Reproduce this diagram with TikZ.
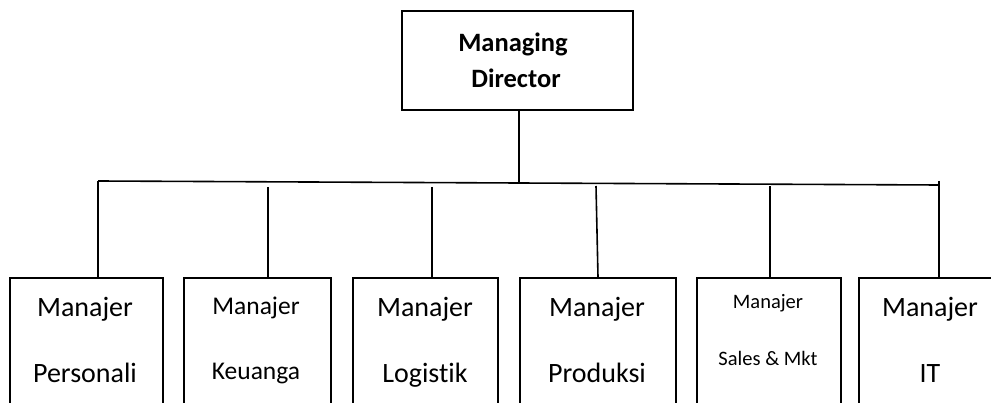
\documentclass[tikz,border=0pt]{standalone}
\usepackage{fontspec}
\setmainfont[Ligatures=NoCommon]{Carlito}
\begin{document}
\begin{tikzpicture}[x=1pt,y=-1pt,
  line width=1.6pt,
  boxs/.style={draw,rectangle,inner sep=0pt,anchor=north west},
  big/.style={font=\fontsize{28}{30}\selectfont,inner sep=0pt,anchor=base},
  mid/.style={font=\fontsize{25.5}{28}\selectfont,inner sep=0pt,anchor=base},
  small/.style={font=\fontsize{20.5}{22}\selectfont,inner sep=0pt,anchor=base},
  top/.style={font=\bfseries\fontsize{26.5}{28}\selectfont,inner sep=0pt,anchor=base}]
\useasboundingbox (0,0) rectangle (991,403);
% top box
\node[boxs,minimum width=231pt,minimum height=99pt] (md) at (401,10) {};
\node[top] (mdA) at (513,52) {Managing};
\node[top] (mdB) at (516,88) {Director};
% bottom boxes
\node[boxs,minimum width=153pt,minimum height=140pt] (b1) at (9,277) {};
\node[boxs,minimum width=147pt,minimum height=140pt] (b2) at (183,277) {};
\node[boxs,minimum width=145pt,minimum height=140pt] (b3) at (352,277) {};
\node[boxs,minimum width=156pt,minimum height=140pt] (b4) at (519,277) {};
\node[boxs,minimum width=144pt,minimum height=140pt] (b5) at (696,277) {};
\node[boxs,minimum width=140pt,minimum height=140pt] (b6) at (858,277) {};
% texts
\node[big] (t1a) at (85,317) {Manajer};
\node[big] (t1b) at (85,382) {Personali};
\node[mid] (t2a) at (256,315) {Manajer};
\node[mid] (t2b) at (256,380) {Keuanga};
\node[big] (t3a) at (425,317) {Manajer};
\node[big] (t3b) at (425,382) {Logistik};
\node[big] (t4a) at (597,317) {Manajer};
\node[big] (t4b) at (597,382) {Produksi};
\node[small] (t5a) at (768,309) {Manajer};
\node[small] (t5b) at (768,366) {Sales \& Mkt};
\node[big] (t6a) at (930,317) {Manajer};
\node[big] (t6b) at (930,383) {IT};
% connectors
\coordinate (hl) at (98,181);
\coordinate (hr) at (939,185);
\coordinate (hm) at (519,183);
\draw (hl) -- (hr);
\draw (md.south -| hm) -- (hm);
\coordinate (c1) at (98,181);
\coordinate (c2) at (268,187);
\coordinate (c3) at (432,187);
\coordinate (c4) at (596,186);
\coordinate (c5) at (770,186);
\coordinate (c6) at (939,181);
\draw (c1) -- (c1 |- b1.north);
\draw (c2) -- (c2 |- b2.north);
\draw (c3) -- (c3 |- b3.north);
\draw (c4) -- ([xshift=2pt]c4 |- b4.north);
\draw (c5) -- (c5 |- b5.north);
\draw (c6) -- (c6 |- b6.north);
\end{tikzpicture}
\end{document}
